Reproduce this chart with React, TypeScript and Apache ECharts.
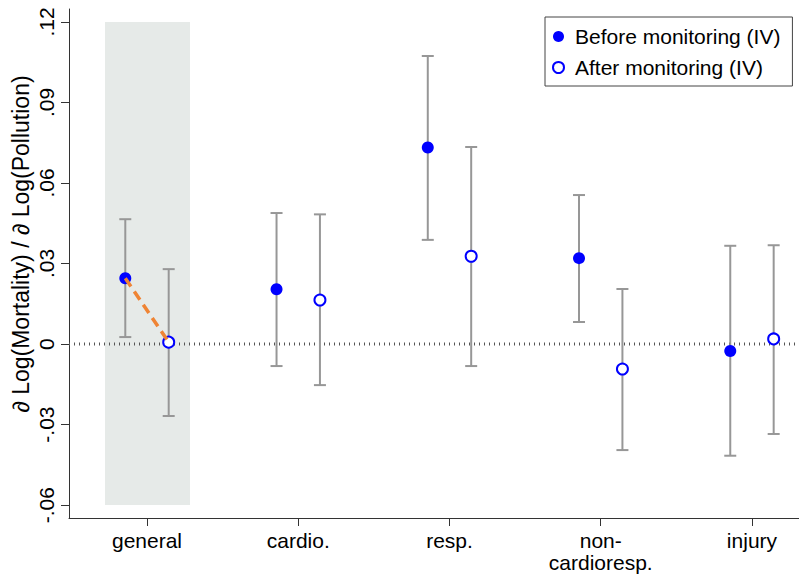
import React, { useEffect, useRef } from "react";
import * as echarts from "echarts";

const categories = ["general", "cardio.", "resp.", "non-\ncardioresp.", "injury"];
const catPos = [1, 2, 3, 4, 5];
const beforeEst = [0.0245, 0.0204, 0.0732, 0.032, -0.0026];
const beforeLow = [0.0026, -0.0082, 0.0388, 0.0082, -0.0416];
const beforeHigh = [0.0465, 0.0488, 0.1073, 0.0555, 0.0366];
const afterEst = [0.0007, 0.0164, 0.0327, -0.0093, 0.0019];
const afterLow = [-0.0268, -0.0153, -0.0082, -0.0395, -0.0335];
const afterHigh = [0.0279, 0.0483, 0.0734, 0.0205, 0.0368];
const yTicks = [-0.06, -0.03, 0, 0.03, 0.06, 0.09, 0.12];
const legendNames = ["Before monitoring (IV)", "After monitoring (IV)"];
const yTitle = "∂ Log(Mortality) / ∂ Log(Pollution)";

const OFFSET = 0.1435;
const X_MIN = 0.4843;
const X_MAX = 5.311;
const FONT = "Liberation Sans, Arial, sans-serif";

function fmtY(v: number): string {
  if (Math.abs(v) < 1e-9) return "0";
  const s = Math.abs(v).toFixed(2).replace(/^0/, "");
  return (v < 0 ? "-" : "") + s;
}

export default function App() {
  const ref = useRef<HTMLDivElement>(null);
  useEffect(() => {
    if (!ref.current) return;
    const chart = echarts.init(ref.current, undefined, { renderer: "svg" });
    const beforePts = catPos.map((c, i) => [c - OFFSET, beforeEst[i]]);
    const afterPts = catPos.map((c, i) => [c + OFFSET, afterEst[i]]);
    const bars = [
      ...catPos.map((c, i) => [c - OFFSET, beforeLow[i], beforeHigh[i]]),
      ...catPos.map((c, i) => [c + OFFSET, afterLow[i], afterHigh[i]]),
    ];
    const gray = "#979797";
    const option: any = {
      animation: false,
      grid: { left: 69, right: 0, top: 9, bottom: 58, containLabel: false },
      graphic: [
        {
          type: "text",
          x: 21,
          y: 244,
          rotation: Math.PI / 2,
          style: {
            text: yTitle,
            fontSize: 23,
            fontFamily: FONT,
            fill: "#000",
            textAlign: "center",
            textVerticalAlign: "middle",
          },
        },
      ],
      xAxis: {
        type: "value",
        min: X_MIN,
        max: X_MAX,
        splitLine: { show: false },
        axisLine: { onZero: false, lineStyle: { color: "#333", width: 1 } },
        axisTick: { customValues: catPos, length: 8, lineStyle: { color: "#333" } },
        axisLabel: {
          customValues: catPos,
          formatter: (v: number) => categories[Math.round(v) - 1],
          fontSize: 21,
          fontFamily: FONT,
          color: "#000",
          margin: 11,
          lineHeight: 22,
        },
      },
      yAxis: {
        type: "value",
        min: -0.0648,
        max: 0.1248,
        splitLine: { show: false },
        axisLine: { show: true, onZero: false, lineStyle: { color: "#333", width: 1 } },
        axisTick: { show: true, customValues: yTicks, length: 8, lineStyle: { color: "#333" } },
        axisLabel: {
          customValues: yTicks,
          formatter: (v: number) => fmtY(v),
          rotate: 90,
          fontSize: 21,
          fontFamily: FONT,
          color: "#000",
          margin: 12,
        },
      },
      legend: {
        left: 545,
        top: 17,
        orient: "vertical",
        data: legendNames,
        itemWidth: 11,
        itemHeight: 11,
        itemGap: 10,
        padding: [9, 12, 8, 7],
        borderColor: "#444",
        borderWidth: 1,
        borderRadius: 0,
        backgroundColor: "#fff",
        textStyle: { fontSize: 21, fontFamily: FONT, color: "#000", padding: [0, 0, 0, 6] },
      },
      series: [
        {
          type: "line",
          data: [
            [X_MIN, 0],
            [X_MAX, 0],
          ],
          symbol: "none",
          silent: true,
          lineStyle: { color: "#555", width: 3, type: [1, 4] },
          z: 1,
          markArea: {
            silent: true,
            itemStyle: { color: "#e6eae8" },
            data: [
              [
                { coord: [0.7223, -0.06] },
                { coord: [1.2843, 0.12] },
              ],
            ],
          },
        },
        {
          type: "custom",
          data: bars,
          encode: { x: 0, y: [1, 2] },
          z: 2,
          silent: true,
          renderItem: (params: any, api: any) => {
            const x = api.value(0);
            const lo = api.coord([x, api.value(1)]);
            const hi = api.coord([x, api.value(2)]);
            const hw = 6;
            const st = { stroke: gray, lineWidth: 2 };
            return {
              type: "group",
              children: [
                { type: "line", shape: { x1: hi[0], y1: hi[1], x2: lo[0], y2: lo[1] }, style: st },
                { type: "line", shape: { x1: hi[0] - hw, y1: hi[1], x2: hi[0] + hw, y2: hi[1] }, style: st },
                { type: "line", shape: { x1: lo[0] - hw, y1: lo[1], x2: lo[0] + hw, y2: lo[1] }, style: st },
              ],
            };
          },
        },
        {
          name: legendNames[0],
          type: "scatter",
          data: beforePts,
          symbol: "circle",
          symbolSize: 12,
          itemStyle: { color: "#0000ff", opacity: 1 },
          z: 3,
        },
        {
          name: legendNames[1],
          type: "scatter",
          data: afterPts,
          symbol: "circle",
          symbolSize: 11,
          itemStyle: { color: "#ffffff", borderColor: "#0000ff", borderWidth: 2, opacity: 1 },
          z: 3,
        },
        {
          type: "line",
          data: [beforePts[0], afterPts[0]],
          symbol: "none",
          silent: true,
          lineStyle: { color: "#ef8434", width: 3.5, type: [10, 6] },
          z: 4,
        },
      ],
    };
    chart.setOption(option);
    return () => chart.dispose();
  }, []);
  return <div ref={ref} style={{ width: 799, height: 576, position: "absolute", left: 0, top: 0 }} />;
}
